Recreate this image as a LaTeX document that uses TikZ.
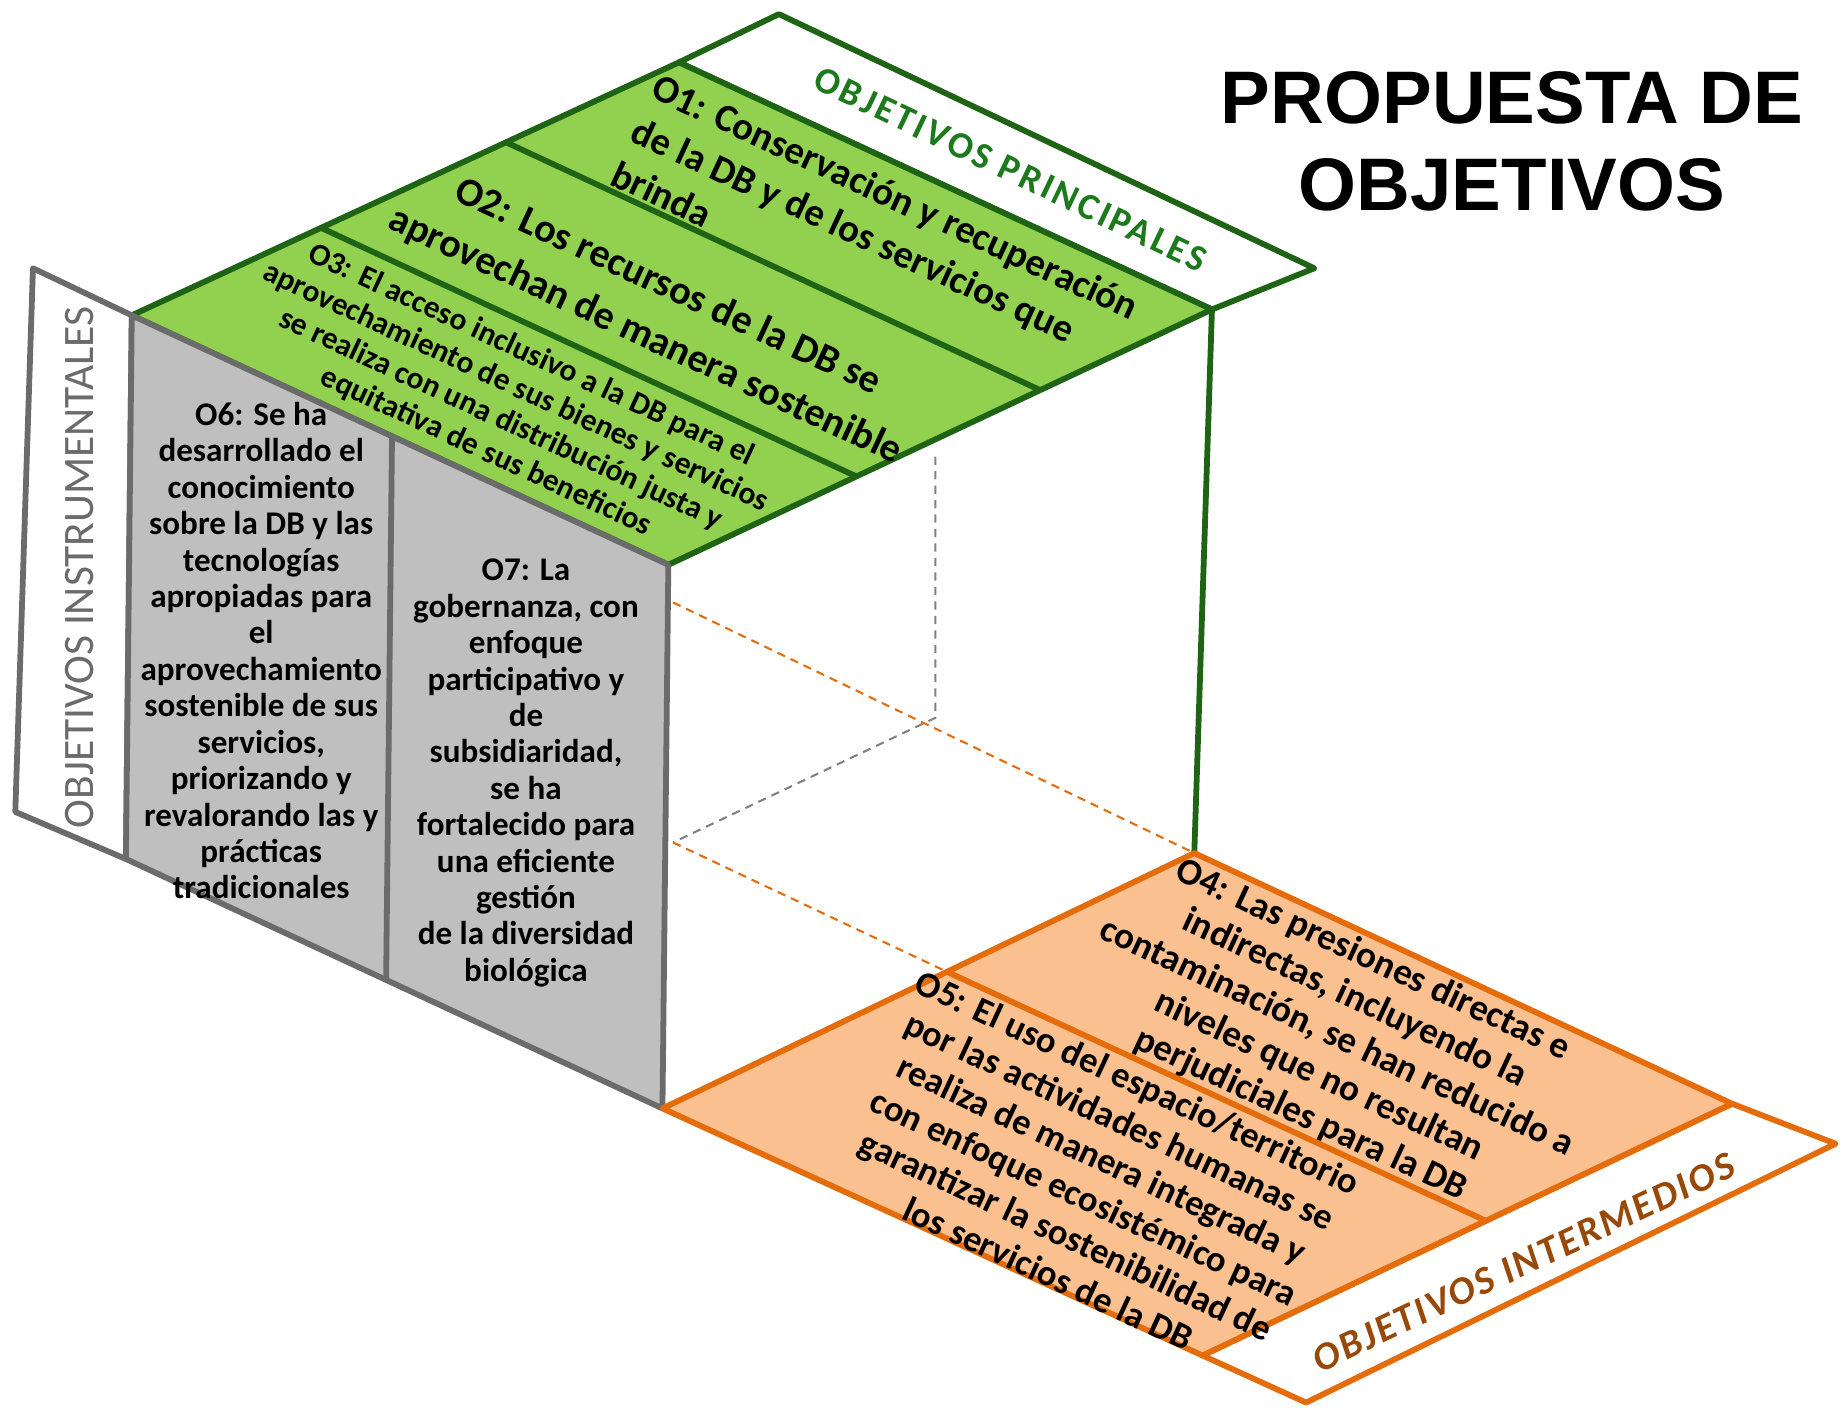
\documentclass[tikz,border=0pt]{standalone}
\usepackage{fontspec}
\setmainfont{Carlito}
\newfontfamily\titlefont{Liberation Sans}
\usetikzlibrary{calc}

\definecolor{verde}{HTML}{92D050}
\definecolor{verdeosc}{HTML}{1E6414}
\definecolor{verdetxt}{HTML}{1C7A1C}
\definecolor{gris}{HTML}{BFBFBF}
\definecolor{grisosc}{HTML}{6B6B6B}
\definecolor{naranja}{HTML}{FAC090}
\definecolor{naranjaosc}{HTML}{E46C0A}
\definecolor{marron}{HTML}{984807}

\tikzset{principal/.style={fill=verde, draw=verdeosc, line width=1.4pt, line join=round},
        instrumental/.style={fill=gris, draw=grisosc, line width=1.4pt, line join=round},
        intermedio/.style={fill=naranja, draw=naranjaosc, line width=1.4pt, line join=round},
        cinta/.style={fill=white, line width=1.4pt, line join=round},
        objtext/.style={align=center, inner sep=0pt},
        oculta/.style={line width=0.5pt, dash pattern=on 2pt off 1.5pt},
        }

\begin{document}
\begin{tikzpicture}[x=0.01cm, y=-0.01cm]
    \useasboundingbox (0,0) rectangle (1568,1197);

    % cara superior
    \coordinate (A) at (112,268);
    \coordinate (B) at (577,53);
    \coordinate (C) at (1030,263);
    \coordinate (D) at (568,480);
    \coordinate (E) at (662,12);
    \coordinate (F) at (1117,228);
    % cara frontal
    \coordinate (G) at (563,942);
    \coordinate (H) at (107,730);
    \coordinate (I1) at (28,228);
    \coordinate (I2) at (13,690);
    % cara inferior
    \coordinate (T) at (1015,725);
    \coordinate (R) at (1472,938);
    \coordinate (Bt) at (1022,1152);
    \coordinate (R2) at (1560,972);
    \coordinate (B2) at (1110,1192);
    % aristas ocultas
    \coordinate (V1) at (795,388);
    \coordinate (V2) at (795,610);
    \coordinate (V3) at (572,716);
    \coordinate (V4) at (572,512);

    \draw [oculta, gray] (V1) -- (V2) -- (V3);
    \draw [oculta, naranjaosc] (V4) -- (T);
    \draw [oculta, naranjaosc] (V3) -- ($(G)!0.535!(T)$);

    \draw [verdeosc, line width=1.4pt] (C) -- (T);

    % objetivos principales
    \draw [cinta, draw=verdeosc] (B) -- (E) -- (F) -- (C) -- cycle;
    \draw [principal] (A) -- (B) -- (C) -- (D) -- cycle;
    \draw [principal] ($(A)!0.346!(B)$) -- ($(D)!0.346!(C)$);
    \draw [principal] ($(A)!0.684!(B)$) -- ($(D)!0.684!(C)$);

    % objetivos instrumentales
    \draw [cinta, draw=grisosc] (I1) -- (A) -- (H) -- (I2) -- cycle;
    \draw [instrumental] (A) -- (D) -- (G) -- (H) -- cycle;
    \draw [instrumental] ($(A)!0.485!(D)$) -- ($(H)!0.485!(G)$);

    % objetivos intermedios
    \draw [cinta, draw=naranjaosc] (R) -- (R2) -- (B2) -- (Bt) -- cycle;
    \draw [intermedio] (G) -- (T) -- (R) -- (Bt) -- cycle;
    \draw [intermedio] ($(G)!0.535!(T)$) -- ($(Bt)!0.535!(R)$);

    \node [objtext, align=left, rotate=-24.9, font=\bfseries\fontsize{9.4}{11.6}\selectfont] (o1) at (744,204)
        {O1: Conservación y recuperación\\de la DB y de los servicios que\\brinda};
    \node [objtext, rotate=-24.9, font=\bfseries\fontsize{9.7}{13}\selectfont] (o2) at (558,265)
        {O2: Los recursos de la DB se\\aprovechan de manera sostenible};
    \node [objtext, rotate=-24.9, font=\bfseries\fontsize{7.6}{8.6}\selectfont] (o3) at (432,343)
        {O3: El acceso inclusivo a la DB para el\\aprovechamiento de sus bienes y servicios\\se realiza con una  distribución justa y\\equitativa de sus beneficios};
    \node [objtext, rotate=-25, font=\bfseries\fontsize{9}{10.3}\selectfont] (o4) at (1136,882)
        {O4: Las presiones directas e\\indirectas, incluyendo la\\contaminación, se han reducido a\\niveles que no resultan\\perjudiciales para la DB};
    \node [objtext, rotate=-25, font=\bfseries\fontsize{8.8}{10.2}\selectfont] (o5) at (929,1001)
        {O5: El uso del espacio/territorio\\por las actividades humanas se\\realiza de manera integrada y\\con enfoque ecosistémico para\\garantizar la sostenibilidad de\\los servicios de la DB};
    \node [objtext, font=\bfseries\fontsize{8}{8.8}\selectfont] (o6) at (222,553)
        {O6: Se ha\\desarrollado el\\conocimiento\\sobre la DB y las\\tecnologías\\apropiadas para\\el\\aprovechamiento\\sostenible de sus\\servicios,\\priorizando y\\revalorando las y\\prácticas\\tradicionales};
    \node [objtext, font=\bfseries\fontsize{8}{8.8}\selectfont] (o7) at (447,657)
        {O7: La\\gobernanza, con\\enfoque\\participativo y\\de\\subsidiaridad,\\se ha\\fortalecido para\\una eficiente\\gestión\\de la diversidad\\biológica};

    \node [rotate=-25.5, text=verdetxt, font=\bfseries\fontsize{9}{10}\selectfont\addfontfeatures{LetterSpace=8}] (lprin) at (859,144) {OBJETIVOS PRINCIPALES};
    \node [rotate=25.4, text=marron, font=\bfseries\itshape\fontsize{9.5}{12}\selectfont\addfontfeatures{LetterSpace=6}] (linter) at (1295,1073) {OBJETIVOS INTERMEDIOS};
    \node [rotate=90, text=grisosc, font=\fontsize{10.5}{12}\selectfont] (linst) at (68,482) {OBJETIVOS INSTRUMENTALES};

    \node [align=center, font=\titlefont\bfseries\fontsize{18}{21}\selectfont] (titulo) at (1285,120) {PROPUESTA DE\\OBJETIVOS};
\end{tikzpicture}
\end{document}
